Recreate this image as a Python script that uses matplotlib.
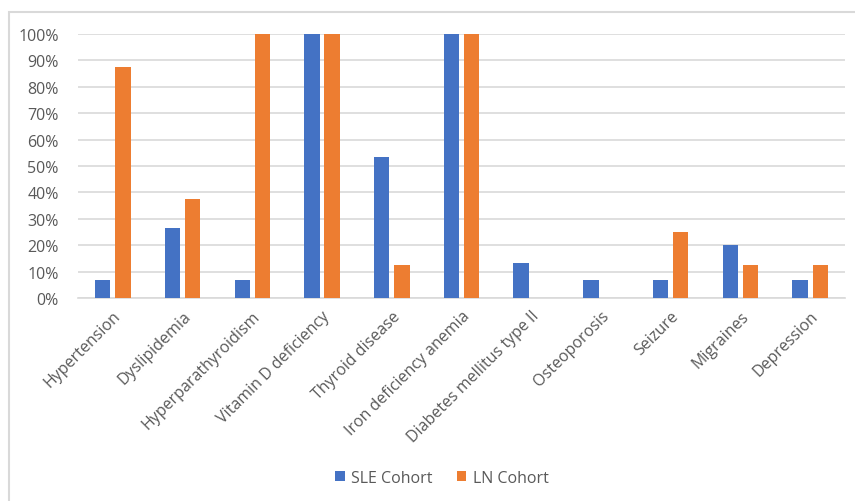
import matplotlib.pyplot as plt
import matplotlib.patches as mpatches
import matplotlib.ticker as ticker
import numpy as np

# ---------------------------------------------------------------------------
# Data (percent of cohort)
# ---------------------------------------------------------------------------
categories = [
    "Hypertension", "Dyslipidemia", "Hyperparathyroidism",
    "Vitamin D deficiency", "Thyroid disease", "Iron deficiency anemia",
    "Diabetes mellitus type II", "Osteoporosis", "Seizure", "Migraines",
    "Depression",
]
sle_cohort = [6.7, 26.7, 6.7, 100, 53.3, 100, 13.3, 6.7, 6.7, 20.0, 6.7]
ln_cohort = [87.5, 37.5, 100, 100, 12.5, 100, 0, 0, 25.0, 12.5, 12.5]
y_ticks = [0, 10, 20, 30, 40, 50, 60, 70, 80, 90, 100]

BLUE = "#4472C4"
ORANGE = "#ED7D31"
TEXT = "#595959"
GRID = "#d9d9d9"
FS = 11.5

plt.rcParams["font.family"] = ["Open Sans", "DejaVu Sans"]

W, H = 855, 502
fig = plt.figure(figsize=(W / 100, H / 100), dpi=100)
fig.patch.set_facecolor("white")

# chart-area border
fig.add_artist(mpatches.Rectangle(
    (9 / W, -0.01), 1.02, 1 - 13 / H + 0.01,
    transform=fig.transFigure, fill=False, edgecolor=GRID, linewidth=1.5,
))

ax = fig.add_axes([78 / W, 1 - 299 / H, (845 - 78) / W, (299 - 35) / H])

x = np.arange(len(categories))
bw = 0.22
ax.bar(x - 0.145, sle_cohort, width=bw, color=BLUE, label="SLE Cohort", zorder=3)
ax.bar(x + 0.145, ln_cohort, width=bw, color=ORANGE, label="LN Cohort", zorder=3)

ax.set_xlim(-0.5, len(categories) - 0.5)
ax.set_ylim(0, 100)
ax.set_yticks(y_ticks)
ax.yaxis.set_major_formatter(ticker.FuncFormatter(lambda v, _: f"{v:.0f}%"))
ax.grid(axis="y", color=GRID, linewidth=1.2, zorder=0)
ax.set_axisbelow(True)

for side in ["top", "right", "left"]:
    ax.spines[side].set_visible(False)
ax.spines["bottom"].set_color(GRID)
ax.spines["bottom"].set_linewidth(1.2)

ax.set_xticks(x)
ax.set_xticklabels(categories, rotation=45, ha="right", rotation_mode="anchor",
                   fontsize=FS, color=TEXT)
ax.tick_params(axis="x", length=0, pad=7)
ax.tick_params(axis="y", length=0, pad=14, labelsize=FS, labelcolor=TEXT)

fig.legend(loc="center", bbox_to_anchor=(442 / W, 1 - 479 / H), ncol=2,
           frameon=False, fontsize=FS, labelcolor=TEXT,
           handlelength=0.6, handleheight=0.6, handletextpad=0.4,
           columnspacing=1.5)

fig.savefig("out.png", dpi=100, facecolor="white")
